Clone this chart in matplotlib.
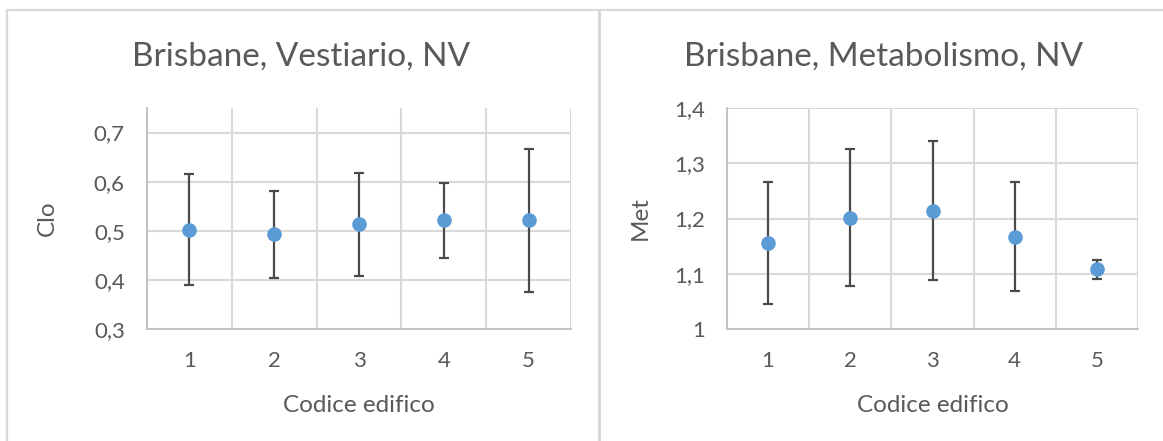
import matplotlib
matplotlib.use("Agg")
import matplotlib.pyplot as plt
from matplotlib.lines import Line2D
from matplotlib.ticker import FixedLocator, FuncFormatter

plt.rcParams['font.family'] = ['Lato', 'DejaVu Sans']

# Building codes and clothing / metabolic statistics (mean and std dev)
codes = [1, 2, 3, 4, 5]
clo_mean = [0.502, 0.493, 0.513, 0.521, 0.521]
clo_std = [0.113, 0.089, 0.105, 0.077, 0.146]
met_mean = [1.156, 1.201, 1.214, 1.167, 1.108]
met_std = [0.110, 0.124, 0.126, 0.099, 0.017]

clo_ticks = [0.3, 0.4, 0.5, 0.6, 0.7]
met_ticks = [1.0, 1.1, 1.2, 1.3, 1.4]

TEXT = '#595959'
GRID = '#d9d9d9'
AXIS = '#bfbfbf'
MARK = '#5b9bd5'
ERR = '#4a4a4a'

W, H = 1163, 441
fig = plt.figure(figsize=(W / 100, H / 100), dpi=100)
fig.patch.set_facecolor('white')


def comma(v, _pos):
    s = f'{v:.1f}'
    if s.endswith('.0'):
        s = s[:-2]
    return s.replace('.', ',')


def panel(rect, means, stds, ylim, yticks, ylabel, title, title_x, ylabel_x):
    x0, y0, x1, y1 = rect
    ax = fig.add_axes([x0 / W, 1 - y1 / H, (x1 - x0) / W, (y1 - y0) / H])
    ax.set_xlim(0.5, 5.5)
    ax.set_ylim(*ylim)
    ax.yaxis.set_major_locator(FixedLocator(yticks))
    ax.yaxis.set_major_formatter(FuncFormatter(comma))
    ax.set_xticks(codes)
    ax.set_xticklabels([str(c) for c in codes])
    ax.xaxis.set_minor_locator(FixedLocator([0.5, 1.5, 2.5, 3.5, 4.5, 5.5]))
    ax.grid(axis='y', which='major', color=GRID, lw=1.5)
    ax.grid(axis='x', which='minor', color=GRID, lw=1.5)
    ax.grid(axis='x', which='major', visible=False)
    ax.set_axisbelow(True)
    for s in ('top', 'right'):
        ax.spines[s].set_visible(False)
    for s in ('left', 'bottom'):
        ax.spines[s].set_color(AXIS)
        ax.spines[s].set_linewidth(1.3)
    ax.tick_params(axis='both', which='both', length=0, colors=TEXT, labelsize=16)
    ax.tick_params(axis='x', pad=16)
    ax.tick_params(axis='y', pad=16)
    ax.errorbar(codes, means, yerr=stds, fmt='o', color=MARK, markersize=9.5,
                ecolor=ERR, elinewidth=1.6, capsize=3.8, capthick=1.6, zorder=3)
    ax.set_xlabel('Codice edifico', fontsize=17.5, color=TEXT, labelpad=17)
    ax.set_ylabel(ylabel, fontsize=17.5, color=TEXT)
    ax.yaxis.set_label_coords((ylabel_x - x0) / (x1 - x0), 0.5)
    fig.text(title_x / W, 1 - 57 / H, title, fontsize=24, color=TEXT,
             ha='center', va='center')
    return ax


panel((147, 108, 571, 329), clo_mean, clo_std, (0.3, 0.75), clo_ticks,
      'Clo', 'Brisbane, Vestiario, NV', 301, 58)
panel((727, 108, 1138, 329), met_mean, met_std, (1.0, 1.4), met_ticks,
      'Met', 'Brisbane, Metabolismo, NV', 884, 651)

# Chart frames
fig.add_artist(Line2D([7 / W, 7 / W], [0, 1 - 10 / H], color=GRID, lw=1.6))
fig.add_artist(Line2D([599 / W, 599 / W], [0, 1 - 10 / H], color=GRID, lw=2.2))
fig.add_artist(Line2D([7 / W, 1], [1 - 10 / H, 1 - 10 / H], color=GRID, lw=1.6))

fig.savefig('out.png', dpi=100, facecolor='white')
